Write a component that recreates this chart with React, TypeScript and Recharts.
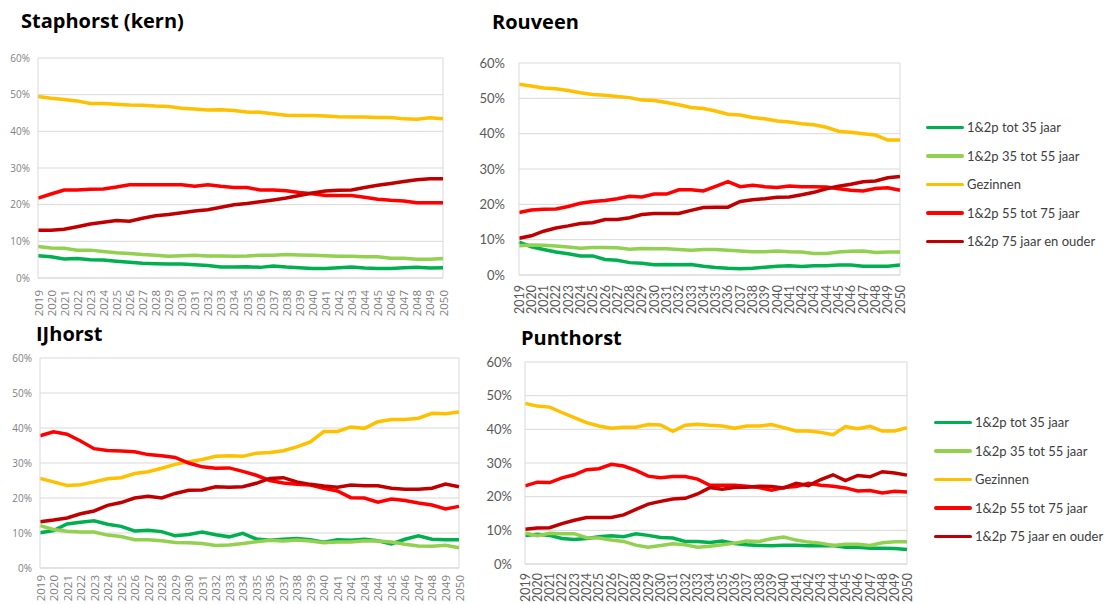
import { LineChart, Line, XAxis, YAxis, CartesianGrid, ReferenceLine } from 'recharts';

const YEARS = [
  '2019', '2020', '2021', '2022', '2023', '2024', '2025', '2026',
  '2027', '2028', '2029', '2030', '2031', '2032', '2033', '2034',
  '2035', '2036', '2037', '2038', '2039', '2040', '2041', '2042',
  '2043', '2044', '2045', '2046', '2047', '2048', '2049', '2050',
];
const Y_TICKS = [0, 10, 20, 30, 40, 50, 60];

const SERIES = [
  { key: 'tot35', name: '1&2p tot 35 jaar', color: '#00B050' },
  { key: 'tot55', name: '1&2p 35 tot 55 jaar', color: '#92D050' },
  { key: 'gezinnen', name: 'Gezinnen', color: '#FFC000' },
  { key: 'tot75', name: '1&2p 55 tot 75 jaar', color: '#FF0000' },
  { key: 'ouder', name: '1&2p 75 jaar en ouder', color: '#C00000' },
];

// Staphorst (kern)
const staphorstTot35 = [6.1, 5.8, 5.2, 5.3, 5.0, 4.9, 4.6, 4.3, 4.0, 3.9, 3.8, 3.8, 3.6, 3.4, 3.0, 3.0, 3.1, 2.9, 3.3, 3.0, 2.8, 2.6, 2.6, 2.8, 3.0, 2.7, 2.6, 2.6, 2.8, 2.9, 2.7, 2.8];
const staphorstTot55 = [8.6, 8.2, 8.1, 7.6, 7.6, 7.2, 6.9, 6.7, 6.4, 6.2, 5.9, 6.1, 6.2, 6.0, 6.0, 5.9, 6.0, 6.2, 6.2, 6.4, 6.3, 6.2, 6.1, 5.9, 5.9, 5.8, 5.8, 5.4, 5.4, 5.1, 5.1, 5.3];
const staphorstGezinnen = [49.5, 49.0, 48.7, 48.3, 47.6, 47.6, 47.4, 47.2, 47.1, 46.9, 46.8, 46.3, 46.1, 45.8, 45.9, 45.7, 45.3, 45.2, 44.8, 44.4, 44.3, 44.3, 44.2, 44.0, 43.9, 43.9, 43.8, 43.8, 43.4, 43.3, 43.7, 43.4];
const staphorstTot75 = [21.8, 22.9, 24.0, 24.0, 24.2, 24.3, 24.8, 25.4, 25.4, 25.4, 25.4, 25.4, 25.0, 25.4, 25.0, 24.7, 24.7, 24.0, 24.0, 23.8, 23.3, 23.0, 22.5, 22.5, 22.5, 22.0, 21.5, 21.2, 21.0, 20.5, 20.5, 20.5];
const staphorstOuder = [13.0, 13.0, 13.3, 14.0, 14.7, 15.2, 15.7, 15.5, 16.3, 17.0, 17.3, 17.8, 18.3, 18.6, 19.3, 20.0, 20.3, 20.8, 21.3, 21.8, 22.5, 23.2, 23.7, 23.9, 24.0, 24.7, 25.3, 25.8, 26.3, 26.8, 27.1, 27.1];

// Rouveen
const rouveenTot35 = [9.3, 8.0, 7.2, 6.5, 6.0, 5.4, 5.4, 4.4, 4.2, 3.5, 3.3, 2.9, 3.0, 2.9, 3.0, 2.5, 2.1, 1.9, 1.8, 1.9, 2.2, 2.5, 2.6, 2.4, 2.6, 2.6, 2.8, 2.8, 2.5, 2.5, 2.5, 2.8];
const rouveenTot55 = [8.3, 8.5, 8.4, 8.2, 7.9, 7.6, 7.8, 7.8, 7.7, 7.3, 7.5, 7.4, 7.4, 7.2, 7.0, 7.2, 7.2, 7.0, 6.8, 6.6, 6.6, 6.8, 6.6, 6.5, 6.1, 6.1, 6.5, 6.7, 6.8, 6.4, 6.5, 6.5];
const rouveenGezinnen = [54.0, 53.5, 52.9, 52.7, 52.2, 51.6, 51.1, 50.9, 50.5, 50.2, 49.5, 49.4, 48.8, 48.2, 47.4, 47.1, 46.4, 45.5, 45.3, 44.6, 44.2, 43.6, 43.3, 42.8, 42.5, 41.8, 40.7, 40.4, 40.0, 39.6, 38.2, 38.2];
const rouveenTot75 = [17.7, 18.4, 18.6, 18.7, 19.4, 20.3, 20.8, 21.1, 21.6, 22.3, 22.1, 22.9, 22.9, 24.1, 24.1, 23.8, 25.1, 26.4, 25.0, 25.4, 25.0, 24.8, 25.2, 25.0, 25.0, 24.9, 24.4, 24.0, 23.8, 24.5, 24.7, 24.0];
const rouveenOuder = [10.4, 11.1, 12.4, 13.3, 13.9, 14.6, 14.8, 15.7, 15.7, 16.2, 17.1, 17.4, 17.4, 17.4, 18.3, 19.1, 19.2, 19.2, 20.8, 21.3, 21.6, 22.0, 22.1, 22.7, 23.4, 24.4, 25.1, 25.7, 26.4, 26.6, 27.5, 27.9];

// IJhorst
const ijhorstTot35 = [10.1, 10.7, 12.6, 13.1, 13.5, 12.5, 11.9, 10.6, 10.8, 10.4, 9.2, 9.6, 10.3, 9.5, 8.9, 9.9, 8.3, 7.9, 8.2, 8.4, 8.1, 7.4, 8.1, 7.9, 8.2, 7.8, 6.9, 8.2, 9.2, 8.2, 8.1, 8.1];
const ijhorstTot55 = [12.1, 11.0, 10.5, 10.3, 10.3, 9.4, 9.0, 8.1, 8.1, 7.8, 7.3, 7.2, 7.0, 6.4, 6.6, 7.0, 7.5, 7.9, 7.7, 8.0, 7.7, 7.2, 7.4, 7.4, 7.8, 7.7, 7.4, 6.8, 6.3, 6.2, 6.5, 5.8];
const ijhorstGezinnen = [25.6, 24.6, 23.6, 23.8, 24.6, 25.5, 25.8, 27.0, 27.5, 28.5, 29.6, 30.4, 31.0, 31.9, 32.1, 31.9, 32.8, 33.0, 33.5, 34.6, 36.0, 39.0, 39.0, 40.3, 39.9, 41.8, 42.4, 42.4, 42.8, 44.2, 44.1, 44.6];
const ijhorstTot75 = [37.8, 38.9, 38.2, 36.3, 34.1, 33.6, 33.4, 33.2, 32.4, 32.1, 31.6, 30.0, 28.9, 28.5, 28.6, 27.6, 26.5, 25.0, 24.3, 23.9, 23.7, 22.8, 22.0, 20.1, 20.0, 18.8, 19.7, 19.3, 18.6, 18.0, 16.9, 17.6];
const ijhorstOuder = [13.2, 13.7, 14.3, 15.5, 16.3, 17.9, 18.7, 20.0, 20.5, 20.0, 21.3, 22.2, 22.3, 23.2, 23.1, 23.2, 24.2, 25.6, 25.8, 24.6, 23.9, 23.4, 23.1, 23.7, 23.5, 23.5, 22.8, 22.5, 22.5, 22.8, 24.0, 23.2];

// Punthorst
const punthorstTot35 = [8.5, 8.8, 8.5, 7.6, 7.3, 7.6, 8.1, 8.4, 8.1, 9.0, 8.5, 7.9, 7.7, 6.7, 6.7, 6.4, 6.8, 6.1, 5.7, 5.5, 5.4, 5.6, 5.6, 5.4, 5.4, 5.5, 5.0, 5.0, 4.7, 4.7, 4.6, 4.3];
const punthorstTot55 = [9.2, 8.4, 9.1, 9.0, 9.0, 7.8, 7.7, 7.1, 6.7, 5.6, 5.0, 5.5, 6.0, 5.7, 5.0, 5.3, 5.7, 6.2, 6.8, 6.7, 7.5, 8.0, 7.1, 6.5, 6.2, 5.5, 5.9, 5.9, 5.5, 6.3, 6.6, 6.6];
const punthorstGezinnen = [47.7, 46.9, 46.6, 45.0, 43.5, 42.0, 41.0, 40.3, 40.6, 40.6, 41.4, 41.3, 39.4, 41.2, 41.5, 41.2, 41.0, 40.3, 41.0, 41.0, 41.4, 40.5, 39.5, 39.5, 39.1, 38.4, 40.8, 40.2, 40.9, 39.5, 39.5, 40.5];
const punthorstTot75 = [23.2, 24.3, 24.2, 25.6, 26.5, 28.0, 28.3, 29.6, 29.1, 27.8, 26.1, 25.6, 26.0, 26.0, 25.2, 23.4, 23.4, 23.4, 23.1, 22.7, 21.9, 22.7, 23.0, 24.0, 23.4, 23.1, 22.6, 21.7, 21.8, 21.1, 21.6, 21.4];
const punthorstOuder = [10.3, 10.7, 10.8, 12.0, 13.0, 13.8, 13.8, 13.8, 14.6, 16.2, 17.8, 18.6, 19.3, 19.5, 20.8, 22.7, 22.2, 22.7, 22.8, 23.1, 23.0, 22.6, 24.0, 23.3, 25.1, 26.5, 24.8, 26.3, 25.9, 27.4, 27.0, 26.4];

function buildRows(values: number[][]) {
  return YEARS.map((year, i) => {
    const row: Record<string, string | number> = { year };
    SERIES.forEach((s, j) => {
      row[s.key] = values[j][i];
    });
    return row;
  });
}

const GRID = '#d9d9d9';

function YearTick(props: any) {
  const { x, y, payload, fontSize, fill, fontFamily, offset } = props;
  const ty = y + offset;
  return (
    <text
      x={x}
      y={ty}
      transform={`rotate(-90 ${x} ${ty})`}
      textAnchor="end"
      dominantBaseline="central"
      fontSize={fontSize}
      fill={fill}
      fontFamily={fontFamily}
    >
      {payload.value}
    </text>
  );
}

interface PanelProps {
  title: string;
  titleLeft: number;
  titleTop: number;
  rows: Record<string, string | number>[];
  left: number;
  top: number;
  width: number;
  height: number;
  margin: { top: number; right: number; bottom: number; left: number };
  yWidth: number;
  yGap: number;
  yFont: number;
  xHeight: number;
  xFont: number;
  xOffset: number;
  fill: string;
  fontFamily: string;
}

function Panel(p: PanelProps) {
  return (
    <>
      <div style={{ position: 'absolute', left: p.left, top: p.top }}>
        <LineChart width={p.width} height={p.height} data={p.rows} margin={p.margin}>
          <CartesianGrid vertical={false} stroke={GRID} />
          <XAxis
            dataKey="year"
            interval={0}
            height={p.xHeight}
            tickLine={false}
            tickSize={0}
            tickMargin={0}
            axisLine={{ stroke: GRID }}
            tick={<YearTick fontSize={p.xFont} fill={p.fill} fontFamily={p.fontFamily} offset={p.xOffset} />}
          />
          <YAxis
            domain={[0, 60]}
            ticks={Y_TICKS}
            width={p.yWidth}
            tickLine={false}
            tickSize={0}
            tickMargin={p.yGap}
            axisLine={{ stroke: GRID }}
            tickFormatter={(v) => `${v}%`}
            tick={{ fontSize: p.yFont, fill: p.fill, fontFamily: p.fontFamily }}
          />
          <ReferenceLine x={YEARS[YEARS.length - 1]} stroke={GRID} />
          {SERIES.map((s) => (
            <Line
              key={s.key}
              type="linear"
              dataKey={s.key}
              name={s.name}
              stroke={s.color}
              strokeWidth={3.5}
              dot={false}
              isAnimationActive={false}
            />
          ))}
        </LineChart>
      </div>
      <div
        style={{
          position: 'absolute',
          left: p.titleLeft,
          top: p.titleTop,
          fontFamily: '"Open Sans", sans-serif',
          fontWeight: 700,
          fontSize: 20,
          lineHeight: '22px',
          color: '#000',
          whiteSpace: 'nowrap',
          background: '#fff',
        }}
      >
        {p.title}
      </div>
    </>
  );
}

function LegendBox({ left, top }: { left: number; top: number }) {
  return (
    <div style={{ position: 'absolute', left, top, fontFamily: 'Lato, sans-serif', fontSize: 13, color: '#404040' }}>
      {SERIES.map((s) => (
        <div key={s.key} style={{ display: 'flex', alignItems: 'center', height: 28.5, whiteSpace: 'nowrap' }}>
          <span style={{ display: 'inline-block', width: 38, height: 3.5, background: s.color, borderRadius: 2, marginRight: 3 }} />
          <span>{s.name}</span>
        </div>
      ))}
    </div>
  );
}

export default function App() {
  const staphorst = buildRows([staphorstTot35, staphorstTot55, staphorstGezinnen, staphorstTot75, staphorstOuder]);
  const rouveen = buildRows([rouveenTot35, rouveenTot55, rouveenGezinnen, rouveenTot75, rouveenOuder]);
  const ijhorst = buildRows([ijhorstTot35, ijhorstTot55, ijhorstGezinnen, ijhorstTot75, ijhorstOuder]);
  const punthorst = buildRows([punthorstTot35, punthorstTot55, punthorstGezinnen, punthorstTot75, punthorstOuder]);

  return (
    <div style={{ position: 'absolute', left: 0, top: 0, width: 1106, height: 604, background: '#fff', overflow: 'hidden' }}>
      <Panel
        title="Staphorst (kern)"
        titleLeft={21}
        titleTop={10}
        rows={staphorst}
        left={0}
        top={40}
        width={460}
        height={284}
        margin={{ top: 18, right: 17, bottom: 0, left: 8 }}
        yWidth={30}
        yGap={8}
        yFont={10}
        xHeight={46}
        xFont={11.5}
        xOffset={12}
        fill="#808080"
        fontFamily='"Open Sans", sans-serif'
      />
      <Panel
        title="Rouveen"
        titleLeft={492}
        titleTop={11}
        rows={rouveen}
        left={470}
        top={40}
        width={440}
        height={280}
        margin={{ top: 23, right: 10, bottom: 0, left: 9 }}
        yWidth={40}
        yGap={14}
        yFont={13}
        xHeight={45}
        xFont={12.5}
        xOffset={10}
        fill="#595959"
        fontFamily="Lato, sans-serif"
      />
      <Panel
        title="IJhorst"
        titleLeft={36}
        titleTop={323}
        rows={ijhorst}
        left={0}
        top={340}
        width={470}
        height={264}
        margin={{ top: 18, right: 11, bottom: 0, left: 10 }}
        yWidth={30}
        yGap={8}
        yFont={10}
        xHeight={36}
        xFont={11.5}
        xOffset={7}
        fill="#808080"
        fontFamily='"Open Sans", sans-serif'
      />
      <Panel
        title="Punthorst"
        titleLeft={521}
        titleTop={327}
        rows={punthorst}
        left={480}
        top={345}
        width={440}
        height={259}
        margin={{ top: 17, right: 13, bottom: 0, left: 5 }}
        yWidth={40}
        yGap={13}
        yFont={13}
        xHeight={40}
        xFont={12.5}
        xOffset={9}
        fill="#595959"
        fontFamily="Lato, sans-serif"
      />
      <LegendBox left={926} top={113} />
      <LegendBox left={934} top={408} />
    </div>
  );
}
